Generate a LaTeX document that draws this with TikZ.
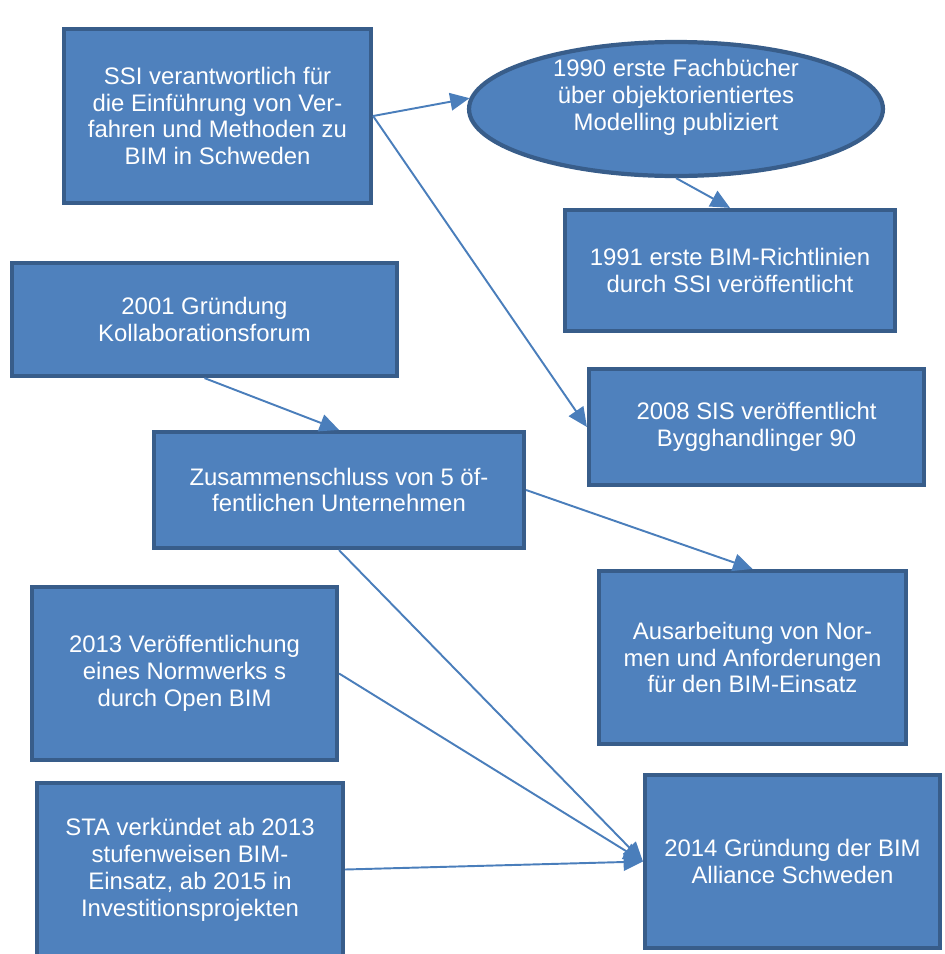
\documentclass[tikz,border=0pt]{standalone}
\usepackage{fontspec}
\setmainfont{Liberation Sans}
\usetikzlibrary{arrows.meta,shapes.geometric}
\definecolor{boxfill}{HTML}{4F81BD}
\definecolor{boxline}{HTML}{385D8A}
\definecolor{arrline}{HTML}{4A7EBB}

\begin{document}
\begin{tikzpicture}[x=0.02cm,y=-0.02cm,
	box_node/.style={rectangle,fill=boxfill,draw=boxline,line width=2.4pt,text=white,align=center,font=\fontsize{13.6}{15.3}\selectfont},
	oval_node/.style={ellipse,fill=boxfill,draw=boxline,line width=2.4pt,inner sep=0pt},
	text_node/.style={text=white,align=center,font=\fontsize{13.6}{15.3}\selectfont},
	link/.style={draw=arrline,line width=1.1pt,-{Triangle[length=11pt,width=10pt]}}]

		\useasboundingbox (0,0) rectangle (944,954);
		\clip (0,0) rectangle (944,954);

		\node[box_node,minimum width=6.14cm,minimum height=3.48cm] (ssi) at (217.5,116) {SSI verantwortlich für\\die Einführung von Ver-\\fahren und Methoden zu\\BIM in Schweden};
		\node[oval_node,minimum width=8.28cm,minimum height=2.68cm] (fach) at (676,109) {};
		\node[text_node] (fach_text) at (676,97) {1990 erste Fachbücher\\über objektorientiertes\\Modelling publiziert};
		\node[box_node,minimum width=6.6cm,minimum height=2.42cm] (richt) at (730,270.5) {1991 erste BIM-Richtlinien\\durch SSI veröffentlicht};
		\node[box_node,minimum width=7.7cm,minimum height=2.26cm] (forum) at (204.5,319.5) {2001 Gründung\\Kollaborationsforum};
		\node[box_node,minimum width=6.7cm,minimum height=2.32cm] (sis) at (756.5,427) {2008 SIS veröffentlicht\\Bygghandlinger 90};
		\node[box_node,minimum width=7.4cm,minimum height=2.32cm] (zus) at (339,490) {Zusammenschluss von 5 öf-\\fentlichen Unternehmen};
		\node[box_node,minimum width=6.14cm,minimum height=3.46cm] (norm) at (752.5,657.5) {Ausarbeitung von Nor-\\men und Anforderungen\\für den BIM-Einsatz};
		\node[box_node,minimum width=6.1cm,minimum height=3.46cm] (openbim) at (184.5,673.5) {2013 Veröffentlichung\\eines Normwerks s\\durch Open BIM};
		\node[box_node,minimum width=6.12cm,minimum height=3.46cm] (sta) at (190,869.5) {STA verkündet ab 2013\\stufenweisen BIM-\\Einsatz, ab 2015 in\\Investitionsprojekten};
		\node[box_node,minimum width=5.9cm,minimum height=3.46cm] (alliance) at (792.5,861.5) {2014 Gründung der BIM\\Alliance Schweden};

		\draw[link] (ssi.east) -- (fach.177);
		\draw[link] (ssi.east) -- (sis.west);
		\draw[link] (fach.south) -- (richt.north);
		\draw[link] (forum.south) -- (zus.north);
		\draw[link] (zus.east) -- (norm.north);
		\draw[link] (zus.south) -- (alliance.west);
		\draw[link] (openbim.east) -- (alliance.west);
		\draw[link] (sta.east) -- (alliance.west);
\end{tikzpicture}
\end{document}
